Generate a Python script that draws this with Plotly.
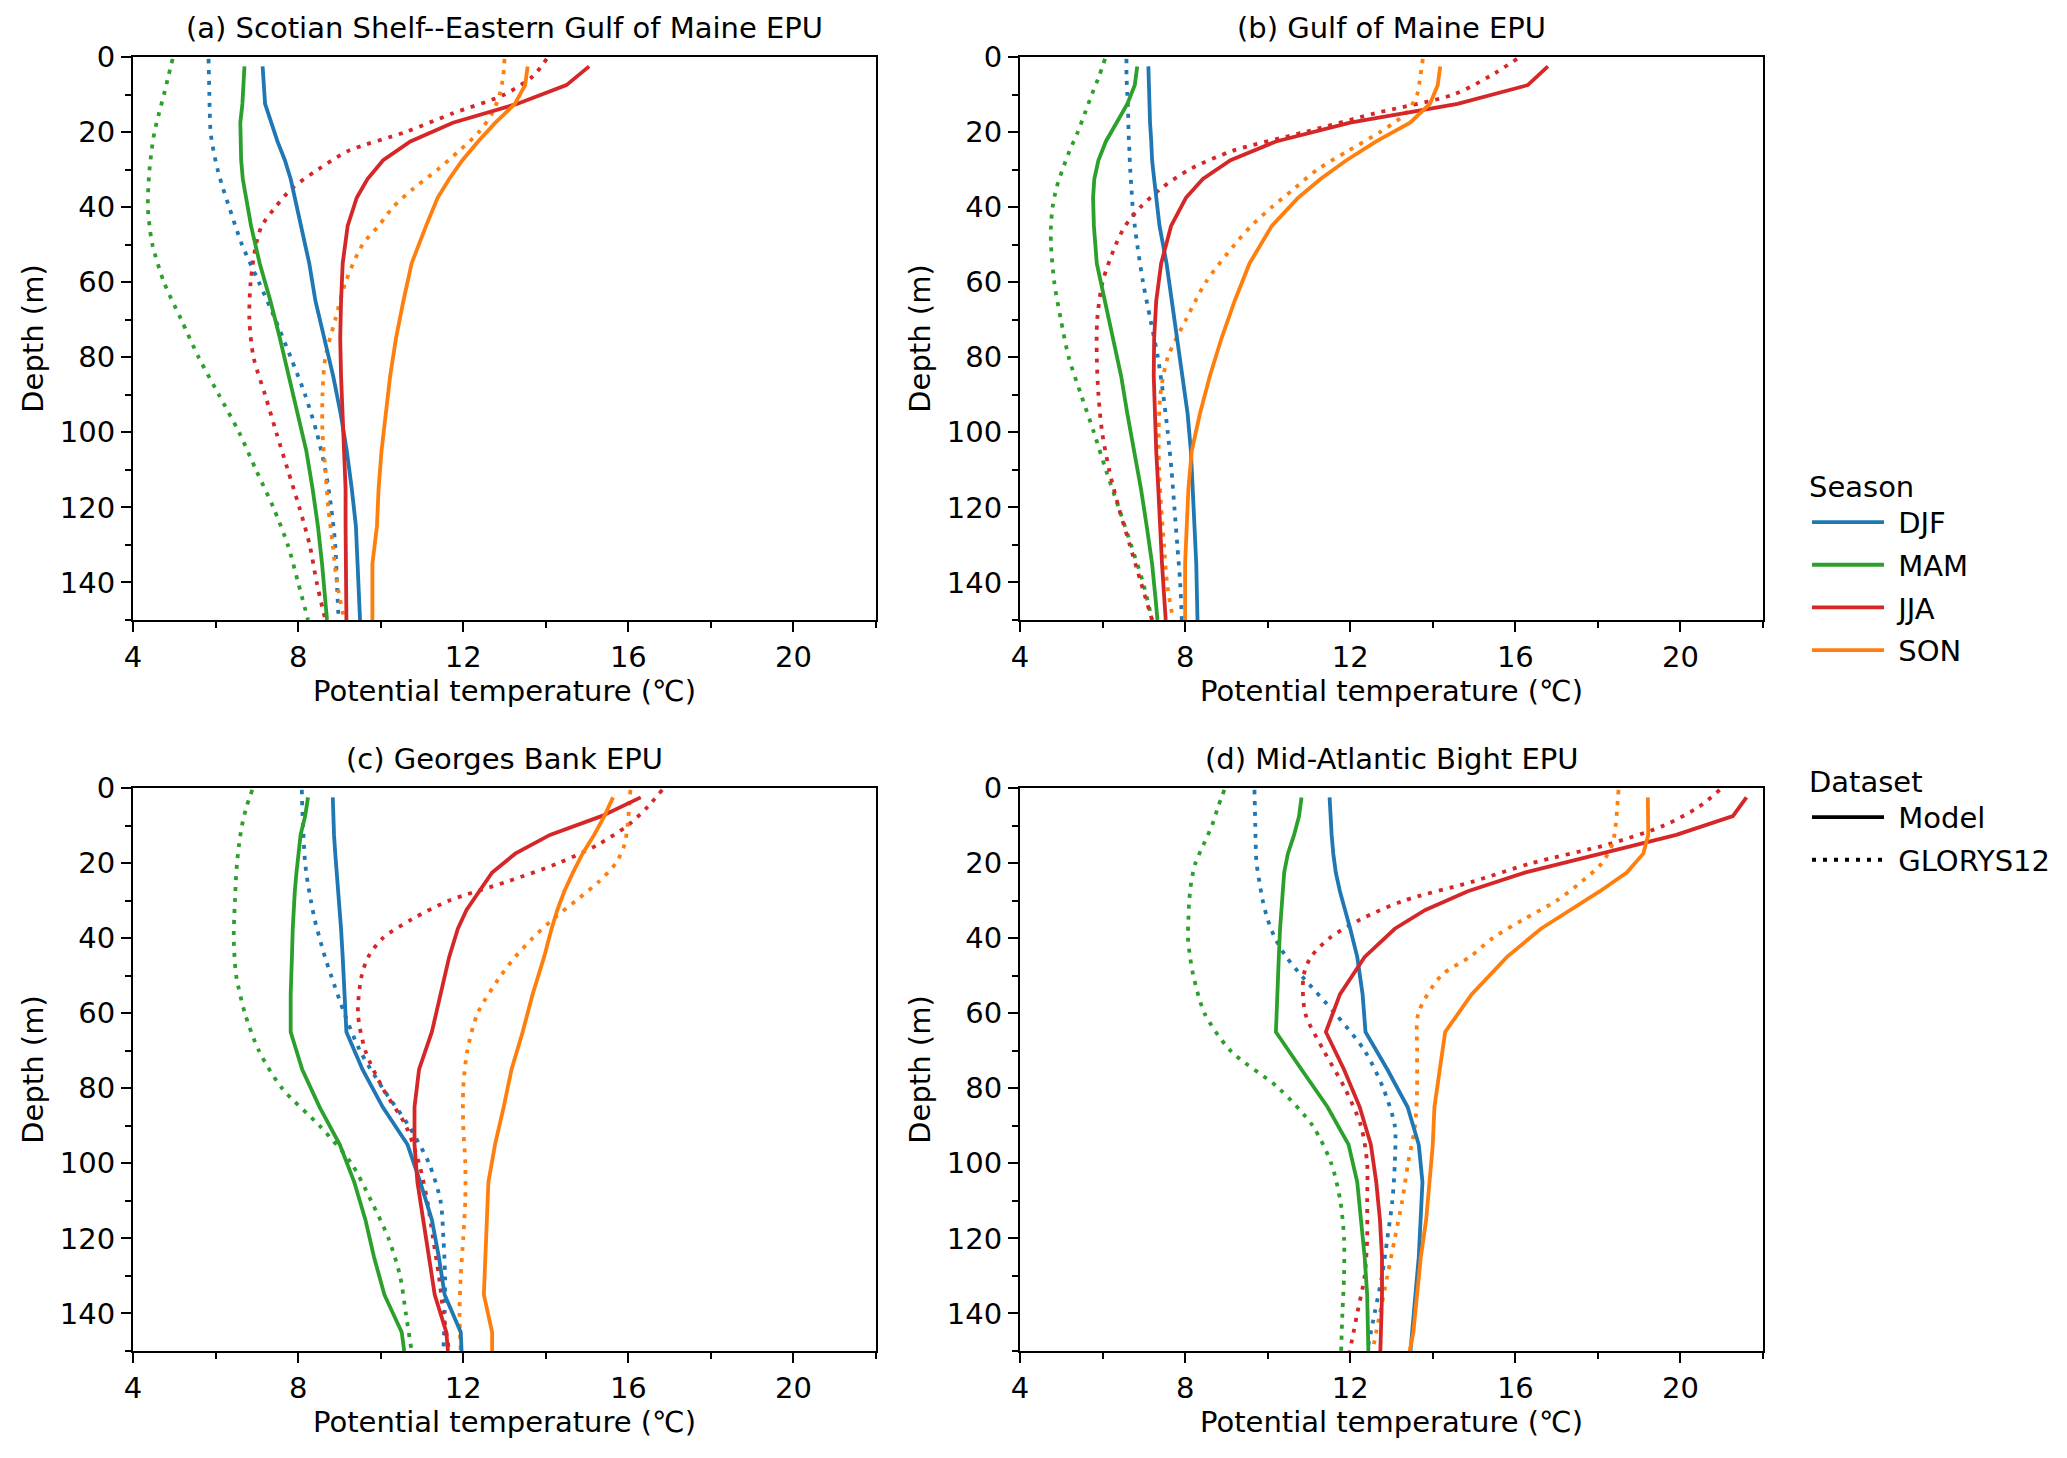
import plotly.graph_objects as go

# ---------------- data ----------------
MODEL_DEPTH = [2.5, 7.5, 12.5, 17.5, 22.5, 27.5, 32.5, 37.5, 45, 55, 65, 75, 85, 95, 105, 115, 125, 135, 145, 150]
GLORYS_DEPTH = [0.5, 5, 10, 15, 20, 25, 30, 35, 40, 45, 50, 60, 70, 80, 90, 100, 110, 120, 130, 140, 150]

SEASONS = ["DJF", "MAM", "JJA", "SON"]
COLORS = {"DJF": "#1f77b4", "MAM": "#2ca02c", "JJA": "#d62728", "SON": "#ff7f0e"}
DATASETS = ["Model", "GLORYS12"]

TITLES = ["(a) Scotian Shelf--Eastern Gulf of Maine EPU", "(b) Gulf of Maine EPU",
          "(c) Georges Bank EPU", "(d) Mid-Atlantic Bight EPU"]

# (a) Scotian Shelf--Eastern Gulf of Maine
A_MODEL_DJF = [7.14, 7.16, 7.2, 7.35, 7.5, 7.68, 7.82, 7.92, 8.07, 8.27, 8.42, 8.64, 8.85, 9.03, 9.18, 9.3, 9.4, 9.44, 9.48, 9.5]
A_MODEL_MAM = [6.7, 6.68, 6.65, 6.6, 6.6, 6.62, 6.66, 6.74, 6.86, 7.07, 7.33, 7.56, 7.78, 8.0, 8.2, 8.35, 8.48, 8.58, 8.66, 8.7]
A_MODEL_JJA = [15.05, 14.5, 13.3, 11.75, 10.72, 10.06, 9.68, 9.42, 9.2, 9.08, 9.04, 9.02, 9.04, 9.08, 9.12, 9.15, 9.15, 9.16, 9.17, 9.17]
A_MODEL_SON = [13.56, 13.5, 13.25, 12.78, 12.36, 11.98, 11.66, 11.38, 11.1, 10.75, 10.55, 10.37, 10.23, 10.12, 10.02, 9.95, 9.91, 9.8, 9.8, 9.8]
A_GLORYS_DJF = [5.83, 5.84, 5.85, 5.86, 5.88, 5.95, 6.05, 6.18, 6.33, 6.48, 6.64, 7.05, 7.45, 7.82, 8.17, 8.45, 8.66, 8.8, 8.9, 8.94, 8.98]
A_GLORYS_MAM = [4.96, 4.86, 4.75, 4.63, 4.52, 4.45, 4.4, 4.37, 4.36, 4.4, 4.47, 4.75, 5.17, 5.59, 6.08, 6.57, 6.98, 7.4, 7.75, 8.0, 8.24]
A_GLORYS_JJA = [14.02, 13.7, 13.0, 11.75, 10.6, 9.22, 8.48, 7.85, 7.45, 7.12, 6.98, 6.85, 6.82, 6.92, 7.2, 7.47, 7.75, 8.03, 8.28, 8.45, 8.66]
A_GLORYS_SON = [13.0, 12.97, 12.88, 12.7, 12.38, 11.9, 11.38, 10.8, 10.3, 9.95, 9.56, 9.15, 8.9, 8.66, 8.59, 8.59, 8.66, 8.73, 8.84, 8.94, 9.12]

# (b) Gulf of Maine
B_MODEL_DJF = [7.11, 7.12, 7.14, 7.15, 7.18, 7.2, 7.25, 7.3, 7.38, 7.55, 7.68, 7.8, 7.95, 8.06, 8.14, 8.19, 8.23, 8.27, 8.29, 8.3]
B_MODEL_MAM = [6.84, 6.78, 6.6, 6.35, 6.08, 5.9, 5.8, 5.77, 5.79, 5.86, 6.05, 6.25, 6.45, 6.6, 6.77, 6.93, 7.07, 7.2, 7.29, 7.33]
B_MODEL_JJA = [16.79, 16.3, 14.6, 12.0, 10.2, 9.1, 8.43, 8.02, 7.66, 7.42, 7.3, 7.25, 7.24, 7.26, 7.3, 7.35, 7.39, 7.44, 7.5, 7.53]
B_MODEL_SON = [14.18, 14.12, 13.93, 13.45, 12.63, 11.91, 11.28, 10.74, 10.1, 9.56, 9.2, 8.88, 8.6, 8.36, 8.16, 8.08, 8.04, 8.0, 8.0, 8.0]
B_GLORYS_DJF = [6.58, 6.58, 6.6, 6.62, 6.63, 6.65, 6.67, 6.7, 6.73, 6.78, 6.84, 6.98, 7.16, 7.34, 7.47, 7.58, 7.67, 7.74, 7.81, 7.88, 7.92]
B_GLORYS_MAM = [6.06, 5.92, 5.74, 5.57, 5.4, 5.2, 5.03, 4.88, 4.79, 4.75, 4.75, 4.83, 4.99, 5.18, 5.48, 5.79, 6.08, 6.39, 6.69, 6.98, 7.2]
B_GLORYS_JJA = [16.04, 15.4, 14.5, 12.6, 10.9, 9.15, 8.1, 7.42, 6.92, 6.55, 6.32, 6.0, 5.87, 5.86, 5.9, 5.99, 6.16, 6.39, 6.66, 6.93, 7.2]
B_GLORYS_SON = [13.76, 13.7, 13.62, 13.35, 12.72, 11.95, 11.2, 10.65, 10.1, 9.6, 9.2, 8.5, 8.02, 7.58, 7.4, 7.36, 7.37, 7.42, 7.49, 7.56, 7.71]

# (c) Georges Bank
C_MODEL_DJF = [8.84, 8.85, 8.87, 8.9, 8.94, 8.98, 9.01, 9.04, 9.08, 9.12, 9.17, 9.56, 10.05, 10.65, 10.96, 11.24, 11.41, 11.55, 11.94, 11.96]
C_MODEL_MAM = [8.24, 8.17, 8.06, 8.0, 7.96, 7.92, 7.89, 7.87, 7.85, 7.82, 7.82, 8.1, 8.52, 9.01, 9.36, 9.63, 9.84, 10.09, 10.51, 10.57]
C_MODEL_JJA = [16.3, 15.35, 14.1, 13.26, 12.7, 12.38, 12.08, 11.87, 11.66, 11.45, 11.24, 10.93, 10.82, 10.82, 10.89, 11.03, 11.17, 11.31, 11.59, 11.63]
C_MODEL_SON = [15.63, 15.42, 15.17, 14.89, 14.66, 14.45, 14.28, 14.14, 13.96, 13.68, 13.44, 13.17, 12.98, 12.77, 12.61, 12.57, 12.54, 12.5, 12.7, 12.7]
C_GLORYS_DJF = [8.09, 8.1, 8.12, 8.14, 8.17, 8.23, 8.31, 8.4, 8.52, 8.65, 8.8, 9.12, 9.5, 10.05, 10.68, 11.17, 11.45, 11.52, 11.56, 11.55, 11.52]
C_GLORYS_MAM = [6.89, 6.75, 6.64, 6.57, 6.52, 6.49, 6.47, 6.45, 6.44, 6.46, 6.5, 6.71, 7.05, 7.61, 8.52, 9.29, 9.77, 10.19, 10.47, 10.61, 10.75]
C_GLORYS_JJA = [16.82, 16.47, 15.98, 15.28, 14.31, 13.05, 11.66, 10.75, 10.05, 9.7, 9.54, 9.45, 9.63, 10.05, 10.61, 10.93, 11.13, 11.27, 11.41, 11.52, 11.66]
C_GLORYS_SON = [16.05, 16.02, 15.98, 15.91, 15.7, 15.28, 14.73, 14.17, 13.68, 13.26, 12.91, 12.35, 12.1, 12.0, 12.0, 12.05, 12.05, 12.0, 11.94, 11.91, 11.94]

# (d) Mid-Atlantic Bight
D_MODEL_DJF = [11.5, 11.52, 11.55, 11.59, 11.65, 11.75, 11.88, 12.0, 12.17, 12.3, 12.37, 12.9, 13.39, 13.66, 13.75, 13.71, 13.66, 13.58, 13.49, 13.46]
D_MODEL_MAM = [10.82, 10.76, 10.64, 10.49, 10.4, 10.36, 10.33, 10.3, 10.27, 10.24, 10.2, 10.82, 11.45, 11.96, 12.17, 12.26, 12.35, 12.41, 12.44, 12.44]
D_MODEL_JJA = [21.6, 21.27, 19.9, 18.1, 16.25, 14.85, 13.82, 13.08, 12.35, 11.75, 11.41, 11.85, 12.23, 12.5, 12.63, 12.72, 12.77, 12.77, 12.75, 12.73]
D_MODEL_SON = [19.21, 19.22, 19.22, 19.1, 18.7, 18.05, 17.35, 16.62, 15.8, 14.94, 14.3, 14.16, 14.04, 14.0, 13.93, 13.84, 13.71, 13.62, 13.53, 13.44]
D_GLORYS_DJF = [9.68, 9.69, 9.7, 9.71, 9.73, 9.8, 9.88, 10.0, 10.18, 10.45, 10.82, 11.63, 12.35, 12.8, 13.08, 13.08, 13.02, 12.9, 12.77, 12.59, 12.41]
D_GLORYS_MAM = [8.95, 8.8, 8.65, 8.45, 8.25, 8.15, 8.1, 8.08, 8.07, 8.12, 8.2, 8.47, 9.1, 10.27, 11.09, 11.54, 11.76, 11.85, 11.85, 11.81, 11.78]
D_GLORYS_JJA = [20.95, 20.45, 19.6, 18.25, 16.4, 14.95, 13.3, 12.25, 11.5, 11.05, 10.87, 10.91, 11.36, 11.87, 12.26, 12.41, 12.41, 12.41, 12.35, 12.17, 11.99]
D_GLORYS_SON = [18.5, 18.47, 18.43, 18.35, 18.1, 17.6, 17.0, 16.2, 15.45, 14.9, 14.2, 13.65, 13.62, 13.62, 13.57, 13.4, 13.26, 13.08, 12.9, 12.72, 12.54]

PANELS = [
    {"model": [A_MODEL_DJF, A_MODEL_MAM, A_MODEL_JJA, A_MODEL_SON],
     "glorys": [A_GLORYS_DJF, A_GLORYS_MAM, A_GLORYS_JJA, A_GLORYS_SON]},
    {"model": [B_MODEL_DJF, B_MODEL_MAM, B_MODEL_JJA, B_MODEL_SON],
     "glorys": [B_GLORYS_DJF, B_GLORYS_MAM, B_GLORYS_JJA, B_GLORYS_SON]},
    {"model": [C_MODEL_DJF, C_MODEL_MAM, C_MODEL_JJA, C_MODEL_SON],
     "glorys": [C_GLORYS_DJF, C_GLORYS_MAM, C_GLORYS_JJA, C_GLORYS_SON]},
    {"model": [D_MODEL_DJF, D_MODEL_MAM, D_MODEL_JJA, D_MODEL_SON],
     "glorys": [D_GLORYS_DJF, D_GLORYS_MAM, D_GLORYS_JJA, D_GLORYS_SON]},
]

X_TICKS = [4, 8, 12, 16, 20]
X_MINOR = [6, 10, 14, 18, 22]
Y_TICKS = [0, 20, 40, 60, 80, 100, 120, 140]
Y_MINOR = [10, 30, 50, 70, 90, 110, 130, 150]
X_LABEL = "Potential temperature (\u2103)"
Y_LABEL = "Depth (m)"

# ---------------- layout geometry (pixels) ----------------
W, H = 2067, 1458
FONT = "DejaVu Sans"
FS = 29
LW = 3.8
DOT = "4px,7px"
OFF = 8  # page body margin offset
PAD = "\u00a0"  # extra gap between legend line and label

col_px = [(133 - OFF, 876 - OFF), (1020 - OFF, 1763 - OFF)]
row_px = [(57 - OFF, 620 - OFF), (788 - OFF, 1351 - OFF)]

fig = go.Figure()
layout = dict(
    width=W, height=H, margin=dict(l=0, r=0, t=0, b=0, autoexpand=False),
    paper_bgcolor="white", plot_bgcolor="white",
    font=dict(family=FONT, size=FS, color="black"),
    showlegend=True,
)

annotations = []
for i, panel in enumerate(PANELS):
    r, c = divmod(i, 2)
    xa = "x" if i == 0 else f"x{i+1}"
    ya = "y" if i == 0 else f"y{i+1}"
    x0, x1 = col_px[c]
    y0, y1 = row_px[r]
    xd = [x0 / W, x1 / W]
    yd = [1 - y1 / H, 1 - y0 / H]
    axis_common = dict(
        showline=True, mirror=True, linecolor="black", linewidth=2,
        ticks="outside", ticklen=10, tickwidth=2, tickcolor="black",
        showgrid=False, zeroline=False, automargin=False,
        tickfont=dict(family=FONT, size=FS, color="black"),
    )
    layout["xaxis" if i == 0 else f"xaxis{i+1}"] = dict(
        axis_common, domain=xd, anchor=ya, range=[4, 22],
        tickvals=X_TICKS,
        minor=dict(tickvals=X_MINOR, ticks="outside", ticklen=6, tickwidth=2, tickcolor="black"),
        title=dict(text=X_LABEL, font=dict(family=FONT, size=FS), standoff=8),
    )
    layout["yaxis" if i == 0 else f"yaxis{i+1}"] = dict(
        axis_common, domain=yd, anchor=xa, range=[150, 0],
        tickvals=Y_TICKS,
        minor=dict(tickvals=Y_MINOR, ticks="outside", ticklen=6, tickwidth=2, tickcolor="black"),
        title=dict(text=Y_LABEL, font=dict(family=FONT, size=FS), standoff=8),
    )
    annotations.append(dict(
        text=TITLES[i], xref="paper", yref="paper",
        x=(xd[0] + xd[1]) / 2, y=yd[1] + 10 / H, xanchor="center", yanchor="bottom",
        showarrow=False, font=dict(family=FONT, size=FS, color="black"),
    ))
    for s, vals in zip(SEASONS, panel["glorys"]):
        fig.add_trace(go.Scatter(
            x=vals, y=GLORYS_DEPTH, xaxis=xa, yaxis=ya, mode="lines",
            line=dict(color=COLORS[s], width=LW, dash=DOT, shape="spline", smoothing=0.8),
            showlegend=False, hoverinfo="skip",
        ))
    for s, vals in zip(SEASONS, panel["model"]):
        fig.add_trace(go.Scatter(
            x=vals, y=MODEL_DEPTH, xaxis=xa, yaxis=ya, mode="lines",
            line=dict(color=COLORS[s], width=LW),
            showlegend=False, hoverinfo="skip",
        ))

# legend entries (no data, legend only)
for s in SEASONS:
    fig.add_trace(go.Scatter(x=[None], y=[None], mode="lines", name=PAD + s, legendgroup=s,
                             line=dict(color=COLORS[s], width=LW), legend="legend"))
for d, dash in zip(DATASETS, ["solid", DOT]):
    fig.add_trace(go.Scatter(x=[None], y=[None], mode="lines", name=PAD + d, legendgroup=d,
                             line=dict(color="black", width=LW, dash=dash), legend="legend2"))

legend_common = dict(
    xanchor="left", yanchor="top", bgcolor="rgba(0,0,0,0)",
    font=dict(family=FONT, size=FS, color="black"),
    itemwidth=72, tracegroupgap=2,
)
layout["legend"] = dict(legend_common, x=1799 / W, y=1 - 451 / H,
                        title=dict(text="Season", font=dict(family=FONT, size=FS)))
layout["legend2"] = dict(legend_common, x=1799 / W, y=1 - 746 / H,
                         title=dict(text="Dataset", font=dict(family=FONT, size=FS)))
layout["annotations"] = annotations

fig.update_layout(**layout)
fig.write_html("out.html")
